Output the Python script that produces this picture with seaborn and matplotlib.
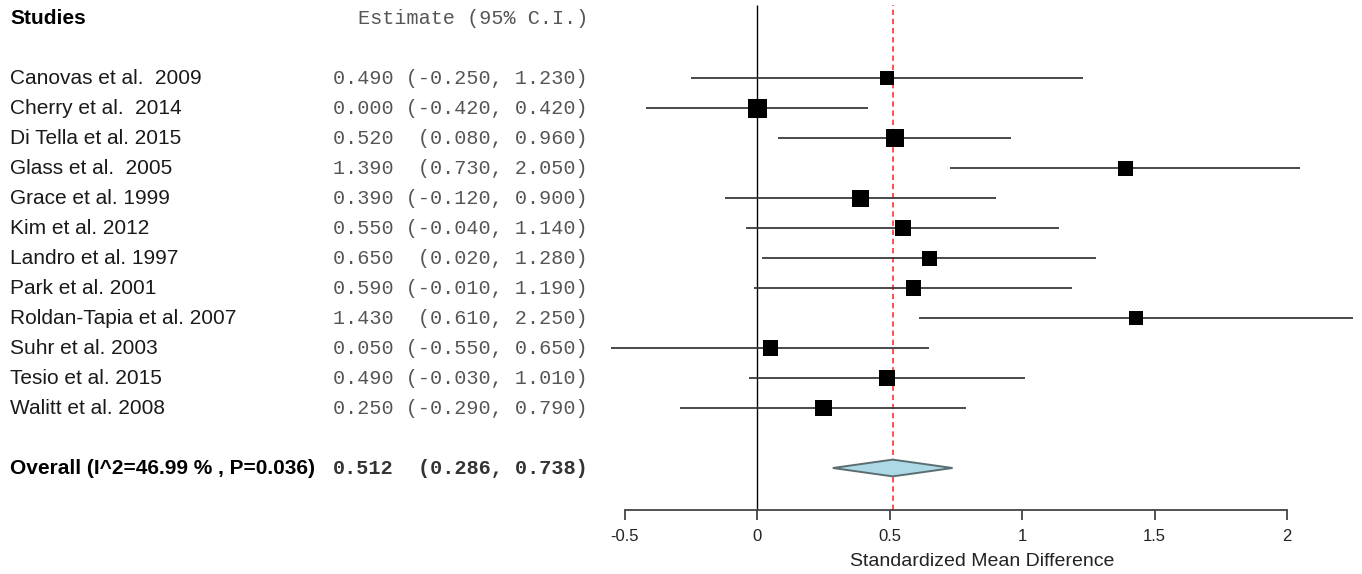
import matplotlib
matplotlib.use("Agg")
import matplotlib.pyplot as plt
import seaborn as sns
import numpy as np
import pandas as pd

# ---- data ----
studies = ["Canovas et al.  2009", "Cherry et al.  2014", "Di Tella et al. 2015",
           "Glass et al.  2005", "Grace et al. 1999", "Kim et al. 2012",
           "Landro et al. 1997", "Park et al. 2001", "Roldan-Tapia et al. 2007",
           "Suhr et al. 2003", "Tesio et al. 2015", "Walitt et al. 2008"]
estimates = [0.490, 0.000, 0.520, 1.390, 0.390, 0.550, 0.650, 0.590, 1.430, 0.050, 0.490, 0.250]
ci_low = [-0.250, -0.420, 0.080, 0.730, -0.120, -0.040, 0.020, -0.010, 0.610, -0.550, -0.030, -0.290]
ci_high = [1.230, 0.420, 0.960, 2.050, 0.900, 1.140, 1.280, 1.190, 2.250, 0.650, 1.010, 0.790]
weights = [14, 19, 18.5, 15, 17, 16, 15, 15.5, 14, 15.5, 16, 16.5]  # relative box sizes
overall_label = "Overall (I^2=46.99 % , P=0.036)"
overall_est, overall_low, overall_high = 0.512, 0.286, 0.738
tick_values = [-0.5, 0, 0.5, 1, 1.5, 2]
tick_labels = ["-0.5", "0", "0.5", "1", "1.5", "2"]
x_label = "Standardized Mean Difference"

# ---- layout ----
W, H = 1362, 574
sns.set_theme(style="white")
plt.rcParams["font.family"] = ["Liberation Sans", "DejaVu Sans"]

fig = plt.figure(figsize=(W / 100, H / 100), dpi=100)
ax_bottom_px = 510
ax = fig.add_axes([0, (H - ax_bottom_px) / H, 1, ax_bottom_px / H])
ax.set_facecolor("white")
px_per_unit = 265.0
zero_px = 757.0
ax.set_xlim(-zero_px / px_per_unit, (W - zero_px) / px_per_unit)
ax.set_ylim(-2.4, 14.6)

n = len(studies)
ypos = np.array([n - i for i in range(n)], dtype=float)
y_overall = -1.0
y_header = 14.0

df = pd.DataFrame({"study": studies, "est": estimates, "lo": ci_low,
                   "hi": ci_high, "w": weights, "y": ypos})

# reference lines
ax.vlines(0, -2.4, 14.43, color="black", lw=1.0, zorder=1)
ax.vlines(overall_est, -2.4, 14.43, color="#ff2020", lw=1.1,
          linestyles=(0, (3.5, 2.5)), zorder=1)

# CI lines
ax.hlines(df["y"], df["lo"], df["hi"], color="#3a3a3a", lw=1.3, zorder=2)

# boxes
sizes_pt2 = (df["w"].to_numpy() * 0.72) ** 2
sns.scatterplot(data=df, x="est", y="y", marker="s", color="black",
                s=sizes_pt2, linewidth=0, ax=ax, zorder=3, legend=False)

# overall diamond
h = 0.28
ax.fill([overall_low, overall_est, overall_high, overall_est],
        [y_overall, y_overall + h, y_overall, y_overall - h],
        facecolor="#add8e6", edgecolor="#5a6e72", lw=1.4, zorder=3)

# axis
for s in ["top", "right", "left"]:
    ax.spines[s].set_visible(False)
ax.spines["bottom"].set_bounds(tick_values[0], tick_values[-1])
ax.spines["bottom"].set_color("#444444")
ax.spines["bottom"].set_linewidth(1.3)
ax.set_xticks(tick_values)
ax.set_xticklabels(tick_labels)
ax.set_yticks([])
ax.set_ylabel("")
ax.tick_params(axis="x", direction="out", length=7.2, width=1.3, color="#444444",
               pad=6.5, labelsize=12, labelcolor="#222222", bottom=True)
ax.set_xlabel(x_label, fontsize=14, color="#222222")
ax.xaxis.set_label_coords(982 / W, -51 / ax_bottom_px)
ax.xaxis.label.set_va("center")
ax.grid(False)

# text columns
tr = ax.get_yaxis_transform()
name_x = 10 / W
num_right = 588 / W
ax.text(name_x, y_header, "Studies", transform=tr, ha="left", va="center",
        fontsize=15, fontweight="bold", color="black")
ax.text(num_right, y_header, "Estimate (95% C.I.)", transform=tr, ha="right",
        va="center", fontsize=14.5, family="Liberation Mono", color="#555555")
for _, r in df.iterrows():
    ax.text(name_x, r["y"], r["study"], transform=tr, ha="left", va="center",
            fontsize=15, color="#1a1a1a")
    ci = f"({r['lo']:.3f}, {r['hi']:.3f})".rjust(15)
    ax.text(num_right, r["y"], f"{r['est']:.3f} {ci}", transform=tr, ha="right",
            va="center", fontsize=14.5, family="Liberation Mono", color="#555555")

ax.text(name_x, y_overall, overall_label, transform=tr, ha="left", va="center",
        fontsize=15, fontweight="bold", color="black")
ax.text(333 / W, y_overall, f"{overall_est:.3f}", transform=tr, ha="left",
        va="center", fontsize=14.5, family="Liberation Mono", fontweight="bold",
        color="#333333")
ax.text(num_right, y_overall, f"({overall_low:.3f}, {overall_high:.3f})", transform=tr,
        ha="right", va="center", fontsize=14.5, family="Liberation Mono",
        fontweight="bold", color="#333333")

fig.savefig("out.png", dpi=100, facecolor="white")
